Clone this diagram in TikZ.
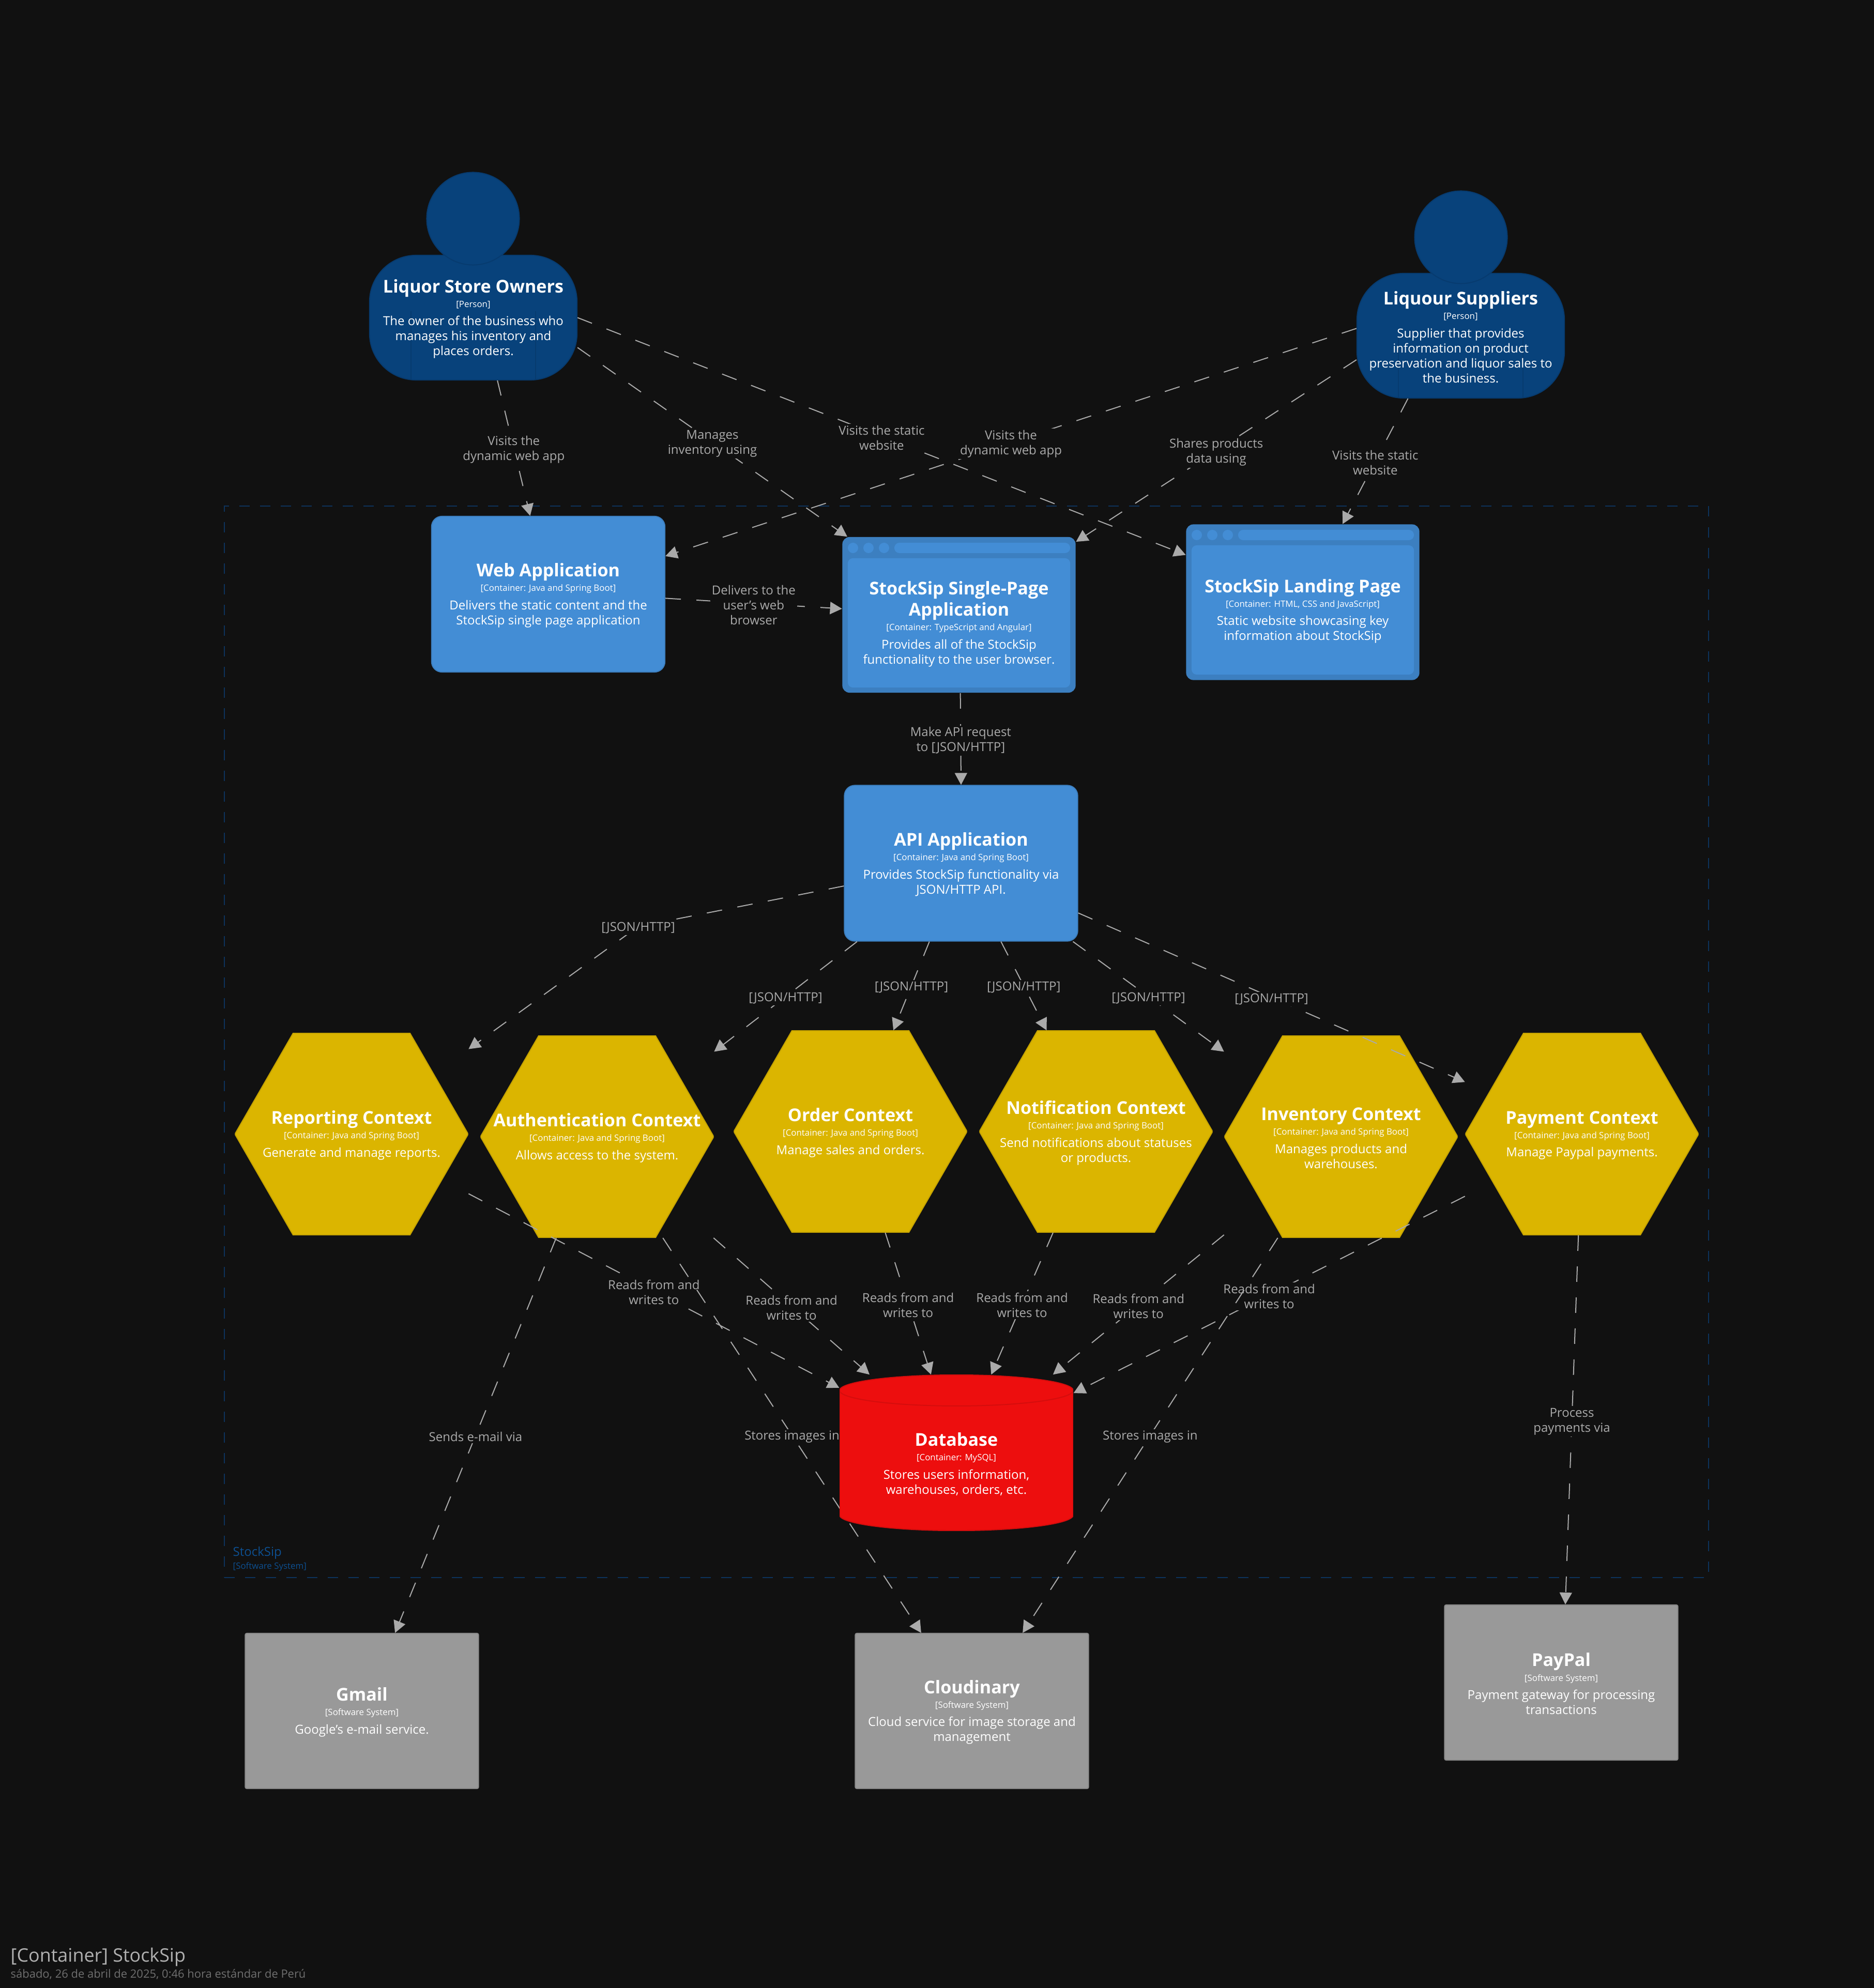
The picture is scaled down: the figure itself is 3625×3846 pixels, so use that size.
\documentclass[tikz,border=0pt]{standalone}
\usepackage{fontspec}
\setmainfont{Open Sans}
\usetikzlibrary{arrows.meta}

\definecolor{bgdark}{HTML}{111111}
\definecolor{personblue}{HTML}{08427B}
\definecolor{personedge}{HTML}{073B6F}
\definecolor{appblue}{HTML}{438DD5}
\definecolor{appedge}{HTML}{3C7FC0}
\definecolor{hexgold}{HTML}{DBB500}
\definecolor{hexedge}{HTML}{C5A300}
\definecolor{dbred}{HTML}{ED0E0E}
\definecolor{dbedge}{HTML}{D50D0D}
\definecolor{extgray}{HTML}{999999}
\definecolor{extedge}{HTML}{8A8A8A}
\definecolor{linkgray}{HTML}{AAAAAA}
\definecolor{boundblue}{HTML}{0D335C}
\definecolor{boundtext}{HTML}{0D4F90}
\definecolor{titlegray}{HTML}{B0B0B0}
\definecolor{subgray}{HTML}{707070}

\newcommand{\namefont}{\fontsize{9.7}{11.7}\selectfont\bfseries}
\newcommand{\metafont}{\fontsize{4.8}{8}\selectfont}
\newcommand{\descfont}{\fontsize{6.83}{8.25}\selectfont}
\newcommand{\cardtext}[3]{{\namefont #1\par}{\metafont #2\par}\vspace{1.9pt}{\descfont #3\par}\vspace{-1.4pt}}

\tikzset{
  card node/.style={rectangle,inner sep=0pt,text width=4.45cm,align=flush center,text=white},
  person node/.style={card node,text width=3.95cm,fill=personblue,draw=personedge,line width=0.02cm,
    minimum width=4.01cm,minimum height=2.41cm,rounded corners=0.9cm,
    path picture={
      \draw[personedge,line width=0.02cm] ([xshift=0.8cm]path picture bounding box.south west) -- ++(0,#1);
      \draw[personedge,line width=0.02cm] ([xshift=-0.8cm]path picture bounding box.south east) -- ++(0,#1);
    }},
  head node/.style={circle,inner sep=0pt,minimum size=1.79cm,fill=personblue,draw=personedge,line width=0.02cm},
  app node/.style={card node,fill=appblue,draw=appedge,line width=0.02cm,
    minimum width=4.51cm,minimum height=3.01cm,rounded corners=0.2cm},
  frame node/.style={rectangle,inner sep=0pt,fill=appedge,minimum width=4.51cm,minimum height=3.01cm,rounded corners=0.14cm},
  panel node/.style={card node,fill=appblue,text width=4.3cm,minimum width=4.3cm,minimum height=2.5cm,rounded corners=0.1cm},
  bar node/.style={rectangle,inner sep=0pt,fill=appblue,minimum width=3.4cm,minimum height=0.2cm,rounded corners=0.1cm},
  dot node/.style={circle,inner sep=0pt,fill=appblue,minimum size=0.2cm},
  ext node/.style={card node,fill=extgray,draw=extedge,line width=0.02cm,
    minimum width=4.51cm,minimum height=3.0cm,rounded corners=0.03cm},
  hex node/.style={card node,minimum width=4.51cm,minimum height=3.9cm,
    path picture={
      \filldraw[fill=hexgold,draw=hexedge,line width=0.02cm]
        (path picture bounding box.west)
        -- ([xshift=1.125cm]path picture bounding box.north west)
        -- ([xshift=-1.125cm]path picture bounding box.north east)
        -- (path picture bounding box.east)
        -- ([xshift=-1.125cm]path picture bounding box.south east)
        -- ([xshift=1.125cm]path picture bounding box.south west)
        -- cycle;
    }},
  db node/.style={rectangle,inner sep=0pt,minimum width=4.515cm,minimum height=3.01cm,
    path picture={
      \filldraw[fill=dbred,draw=dbedge,line width=0.02cm]
        ([yshift=-0.3cm]path picture bounding box.north west)
        arc[start angle=180,end angle=0,x radius=2.2575cm,y radius=0.3cm]
        -- ([yshift=0.3cm]path picture bounding box.south east)
        arc[start angle=0,end angle=-180,x radius=2.2575cm,y radius=0.3cm]
        -- cycle;
      \draw[dbedge,line width=0.02cm]
        ([yshift=-0.3cm]path picture bounding box.north west)
        arc[start angle=180,end angle=360,x radius=2.2575cm,y radius=0.3cm];
    }},
  link/.style={->,>={Triangle[length=0.23cm,width=0.24cm]},color=linkgray,line width=0.02cm,
    dash pattern=on 0.3cm off 0.3cm},
  link label/.style={fill=bgdark,text=linkgray,inner sep=0.03cm,align=center,solid,yshift=-0.03cm,
    font=\fontsize{6.83}{8.25}\selectfont},
  bound label/.style={anchor=west,inner sep=0pt,text=boundtext}
}

\begin{document}
\begin{tikzpicture}[x=0.01cm,y=-0.01cm]
  \path[use as bounding box,fill=bgdark] (0,0) rectangle (3625,3846);

  \node[rectangle,inner sep=0pt,draw=boundblue,line width=0.02cm,dash pattern=on 0.2cm off 0.2cm,
    minimum width=28.69cm,minimum height=20.71cm] (stocksip) at (1869.5,2015.5) {};
  \node[bound label,font=\fontsize{6.83}{8.25}\selectfont] (stocksipname) at (450,3004) {StockSip};
  \node[bound label,font=\fontsize{4.8}{6}\selectfont] (stocksipmeta) at (450,3031) {[Software System]};

  \node[person node=1.33cm] (owners) at (915.5,614.5) {\cardtext{Liquor Store Owners}{[Person]}{The owner of the business who\\manages his inventory and\\places orders.}};
  \node[head node] (ownershead) at (915,423) {};
  \node[person node=1.18cm] (suppliers) at (2825.5,649.5) {\cardtext{Liquour Suppliers}{[Person]}{Supplier that provides\\information on product\\preservation and liquor sales to\\the business.}};
  \node[head node] (suppliershead) at (2826,459) {};

  \node[app node] (web) at (1060.5,1149.5) {\cardtext{Web Application}{[Container: Java and Spring Boot]}{Delivers the static content and the\\StockSip single page application}};

  \node[frame node] (spa) at (1855,1189.5) {};
  \node[bar node] (spabar) at (1900,1060) {};
  \node[dot node] (spadota) at (1650,1060) {};
  \node[dot node] (spadotb) at (1680,1060) {};
  \node[dot node] (spadotc) at (1710,1060) {};
  \node[panel node] (spapanel) at (1855,1205) {\cardtext{StockSip Single-Page\\Application}{[Container: TypeScript and Angular]}{Provides all of the StockSip\\functionality to the user browser.}};

  \node[frame node] (landing) at (2520,1165) {};
  \node[bar node] (landingbar) at (2565,1035) {};
  \node[dot node] (landingdota) at (2315,1035) {};
  \node[dot node] (landingdotb) at (2345,1035) {};
  \node[dot node] (landingdotc) at (2375,1035) {};
  \node[panel node] (landingpanel) at (2520,1180) {\cardtext{StockSip Landing Page}{[Container: HTML, CSS and JavaScript]}{Static website showcasing key\\information about StockSip}};

  \node[app node] (api) at (1859,1670) {\cardtext{API Application}{[Container: Java and Spring Boot]}{Provides StockSip functionality via\\JSON/HTTP API.}};

  \node[hex node] (reporting) at (680,2194) {\cardtext{Reporting Context}{[Container: Java and Spring Boot]}{Generate and manage reports.}};
  \node[hex node] (auth) at (1155,2199) {\cardtext{Authentication Context}{[Container: Java and Spring Boot]}{Allows access to the system.}};
  \node[hex node] (order) at (1645,2189) {\cardtext{Order Context}{[Container: Java and Spring Boot]}{Manage sales and orders.}};
  \node[hex node] (notif) at (2120,2189) {\cardtext{Notification Context}{[Container: Java and Spring Boot]}{Send notifications about statuses\\or products.}};
  \node[hex node] (inventory) at (2594,2199) {\cardtext{Inventory Context}{[Container: Java and Spring Boot]}{Manages products and\\warehouses.}};
  \node[hex node] (payment) at (3060,2194) {\cardtext{Payment Context}{[Container: Java and Spring Boot]}{Manage Paypal payments.}};

  \node[ext node] (gmail) at (700,3310) {\cardtext{Gmail}{[Software System]}{Google's e-mail service.}};
  \node[ext node] (cloudinary) at (1880,3310) {\cardtext{Cloudinary}{[Software System]}{Cloud service for image storage and\\management}};
  \node[ext node] (paypal) at (3020,3255) {\cardtext{PayPal}{[Software System]}{Payment gateway for processing\\transactions}};

  \coordinate (apibend) at (1234.5,1792.5);
  \draw[link] (api.-169.2) -- (apibend) -- (reporting.36.9);
  \node[link label] (apibendlabel) at (apibend) {[JSON/HTTP]};

  \node[rectangle,inner sep=0pt,minimum width=4.515cm,minimum height=3.01cm] (db) at (1850,2810.5) {};

  \path[link,every node/.style={link label}]
    (owners.-69.1) edge node {Visits the\\dynamic web app} (web.103.3)
    (owners.-16.6) edge node {Manages\\inventory using} (spa.145.1)
    (owners.0.3) edge node {Visits the static\\website} (landing.158.8)
    (suppliers.176.15) edge node {Visits the\\dynamic web app} (web.18.4)
    (suppliers.193.6) edge node {Shares products\\data using} (spa.32.5)
    (suppliers.-130.7) edge node {Visits the static\\website} (landing.63)
    (web.-2.9) edge node {Delivers to the\\user's web\\browser} (spa.177)
    (spa.-89.6) edge node {Make API request\\to [JSON/HTTP]} (api.90.5)
    (api.-143.1) edge node {[JSON/HTTP]} (auth.36.9)
    (api.-112.8) edge node {[JSON/HTTP]} (order.67.4)
    (api.-63.4) edge node {[JSON/HTTP]} (notif.116.7)
    (api.-35.8) edge node {[JSON/HTTP]} (inventory.144.2)
    (api.-23.4) edge node {[JSON/HTTP]} (payment.156.7)
    (reporting.-27.9) edge node {Reads from and\\writes to} (db.151.7)
    (auth.-41.4) edge node {Reads from and\\writes to} (db.138.65)
    (order.-71.6) edge node {Reads from and\\writes to} (db.108)
    (notif.-113.9) edge node {Reads from and\\writes to} (db.66.3)
    (inventory.-140.5) edge node {Reads from and\\writes to} (db.39.5)
    (payment.-152.9) edge node {Reads from and\\writes to} (db.27)
    (auth.-112.5) edge node {Sends e-mail via} (gmail.67.6)
    (auth.-57.1) edge node {Stores images in} (cloudinary.123)
    (inventory.-122.6) edge node {Stores images in} (cloudinary.57.1)
    (payment.-92.1) edge node {Process\\payments via} (paypal.87.7);

  \node[db node] (dbdrum) at (1850,2810.5) {};
  \node[card node] (dbtext) at (1850,2830) {\cardtext{Database}{[Container: MySQL]}{Stores users information,\\warehouses, orders, etc.}};

  \node[anchor=west,inner sep=0pt,text=titlegray,font=\fontsize{10.2}{12}\selectfont] (title) at (20,3786) {[Container] StockSip};
  \node[anchor=west,inner sep=0pt,text=subgray,font=\fontsize{6.24}{8}\selectfont] (subtitle) at (20,3819) {sábado, 26 de abril de 2025, 0:46 hora estándar de Perú};
\end{tikzpicture}
\end{document}
